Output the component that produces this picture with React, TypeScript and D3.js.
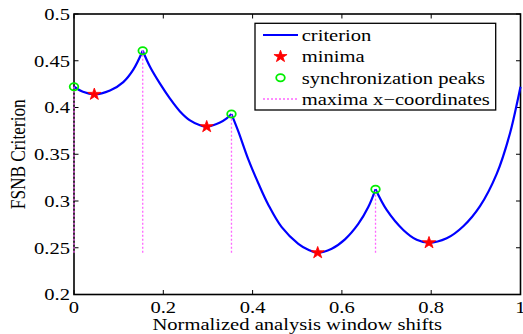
import React from 'react';
import * as d3 from 'd3';

const curveX = [0, 0.02, 0.0455, 0.0806, 0.1104, 0.1328, 0.1539, 0.1702, 0.1926, 0.215, 0.2374, 0.2598, 0.2822, 0.2972, 0.327, 0.342, 0.3527, 0.368, 0.3904, 0.4128, 0.4352, 0.4652, 0.5024, 0.5248, 0.5458, 0.5772, 0.6069, 0.6367, 0.6591, 0.6753, 0.7003, 0.7375, 0.7675, 0.7951, 0.8347, 0.8719, 0.9093, 0.9467, 0.9765, 0.9951, 1.0];
const curveY = [0.4222, 0.4168, 0.4141, 0.4182, 0.4272, 0.4405, 0.4607, 0.4436, 0.4255, 0.4095, 0.3958, 0.3862, 0.3810, 0.3795, 0.3840, 0.3884, 0.393, 0.3745, 0.3445, 0.3190, 0.2960, 0.2720, 0.2542, 0.2478, 0.2447, 0.2490, 0.2590, 0.2755, 0.2935, 0.3125, 0.2904, 0.2690, 0.2585, 0.2554, 0.2601, 0.2730, 0.2945, 0.3290, 0.3724, 0.4110, 0.4222];
const peakX = [0, 0.1539, 0.3527, 0.6753];
const peakY = [0.4222, 0.4607, 0.393, 0.3125];
const minX = [0.0455, 0.2972, 0.5458, 0.7951];
const minY = [0.4141, 0.3795, 0.2447, 0.2554];
const maximaLineBottom = 0.2447;
const xTicks = [0, 0.2, 0.4, 0.6, 0.8, 1];
const xTickLabels = ['0', '0.2', '0.4', '0.6', '0.8', '1'];
const yTicks = [0.2, 0.25, 0.3, 0.35, 0.4, 0.45, 0.5];
const yTickLabels = ['0.2', '0.25', '0.3', '0.35', '0.4', '0.45', '0.5'];
const legendLabels = ['criterion', 'minima', 'synchronization peaks', 'maxima x\u2212coordinates'];
const xLabel = 'Normalized analysis window shifts';
const yLabel = 'FSNB Criterion';

const FONT = "Liberation Serif, Times New Roman, serif";
const FS = 17.3;
const SX = 1.19;

export default function App() {
  const x = d3.scaleLinear().domain([0, 1]).range([74, 520.5]);
  const y = d3.scaleLinear().domain([0.2, 0.5]).range([294.5, 14]);

  // split curve into segments at peaks (cusps)
  const segments: [number, number][][] = [];
  let cur: [number, number][] = [];
  curveX.forEach((cx, i) => {
    const p: [number, number] = [cx, curveY[i]];
    cur.push(p);
    if (peakX.includes(cx) && cur.length > 1) {
      segments.push(cur);
      cur = [p];
    }
  });
  if (cur.length > 1) segments.push(cur);

  const line = d3
    .line<[number, number]>()
    .x((d) => x(d[0]))
    .y((d) => y(d[1]))
    .curve(d3.curveCatmullRom.alpha(0.5));

  const star = d3.symbol().type(d3.symbolStar).size(44)();
  const [x0, x1] = x.range();
  const [yb, yt] = y.range();
  const tl = 4.5;

  const lgX = 255;
  const lgY = 23.3;
  const lgW = 240.7;
  const lgH = 86.7;
  const rowY = [35, 56.5, 77.7, 99];

  return (
    <svg width={523} height={334} style={{ position: 'absolute', left: 0, top: 0, background: '#fff' }} fontFamily={FONT}>
      <rect x={0} y={0} width={523} height={334} fill="#fff" />
      {/* axes box */}
      <rect x={x0} y={yt} width={x1 - x0} height={yb - yt} fill="none" stroke="#000" strokeWidth={1.6} />
      {xTicks.map((t) => (
        <g key={'xt' + t}>
          <line x1={x(t)} x2={x(t)} y1={yb} y2={yb - tl} stroke="#000" strokeWidth={1} />
          <line x1={x(t)} x2={x(t)} y1={yt} y2={yt + tl} stroke="#000" strokeWidth={1} />
        </g>
      ))}
      {yTicks.map((t) => (
        <g key={'yt' + t}>
          <line x1={x0} x2={x0 + tl} y1={y(t)} y2={y(t)} stroke="#000" strokeWidth={1} />
          <line x1={x1} x2={x1 - tl} y1={y(t)} y2={y(t)} stroke="#000" strokeWidth={1} />
        </g>
      ))}
      {xTicks.map((t, i) => (
        <text key={'xl' + t} transform={`translate(${x(t)},312.5) scale(${SX},1)`} textAnchor="middle" fontSize={FS} fill="#000">
          {xTickLabels[i]}
        </text>
      ))}
      {yTicks.map((t, i) => (
        <text key={'yl' + t} transform={`translate(70,${y(t) + 5.8}) scale(${SX},1)`} textAnchor="end" fontSize={FS} fill="#000">
          {yTickLabels[i]}
        </text>
      ))}
      <text transform={`translate(${(x0 + x1) / 2},329.5) scale(${SX},1)`} textAnchor="middle" fontSize={FS} fill="#000">
        {xLabel}
      </text>
      <text transform={`translate(25,${(yb + yt) / 2}) scale(${SX},1) rotate(-90)`} textAnchor="middle" fontSize={FS} fill="#000">
        {yLabel}
      </text>

      {/* curve */}
      {segments.map((s, i) => (
        <path key={'seg' + i} d={line(s) || ''} fill="none" stroke="#0000ff" strokeWidth={2.2} strokeLinejoin="round" />
      ))}
      {/* maxima x-coordinates */}
      {peakX.map((px, i) => (
        <line key={'ml' + i} x1={x(px)} x2={x(px)} y1={y(maximaLineBottom)} y2={y(peakY[i])} stroke="#ff66ff" strokeWidth={1.3} strokeDasharray="2,2" />
      ))}
      {/* minima */}
      {minX.map((mx, i) => (
        <path key={'mn' + i} d={star || ''} transform={`translate(${x(mx)},${y(minY[i])}) scale(1.1,1)`} fill="#ff0000" stroke="#ff0000" strokeWidth={0.8} />
      ))}
      {/* peaks */}
      {peakX.map((px, i) => (
        <ellipse key={'pk' + i} cx={x(px)} cy={y(peakY[i])} rx={4.3} ry={3.6} fill="none" stroke="#00ee00" strokeWidth={1.8} />
      ))}

      {/* legend */}
      <rect x={lgX} y={lgY} width={lgW} height={lgH} fill="#fff" stroke="#000" strokeWidth={1.3} />
      <line x1={263} x2={298} y1={rowY[0]} y2={rowY[0]} stroke="#0000ff" strokeWidth={2.2} />
      <path d={star || ''} transform={`translate(280.5,${rowY[1]}) scale(1.1,1)`} fill="#ff0000" stroke="#ff0000" strokeWidth={0.8} />
      <ellipse cx={280.5} cy={rowY[2]} rx={4.3} ry={3.6} fill="none" stroke="#00ee00" strokeWidth={1.8} />
      <line x1={263} x2={298} y1={rowY[3]} y2={rowY[3]} stroke="#ff66ff" strokeWidth={1.3} strokeDasharray="2,2" />
      {legendLabels.map((l, i) => (
        <text key={'lg' + i} transform={`translate(301.7,${rowY[i] + 5.8}) scale(${SX},1)`} fontSize={FS} fill="#000">
          {l}
        </text>
      ))}
    </svg>
  );
}
